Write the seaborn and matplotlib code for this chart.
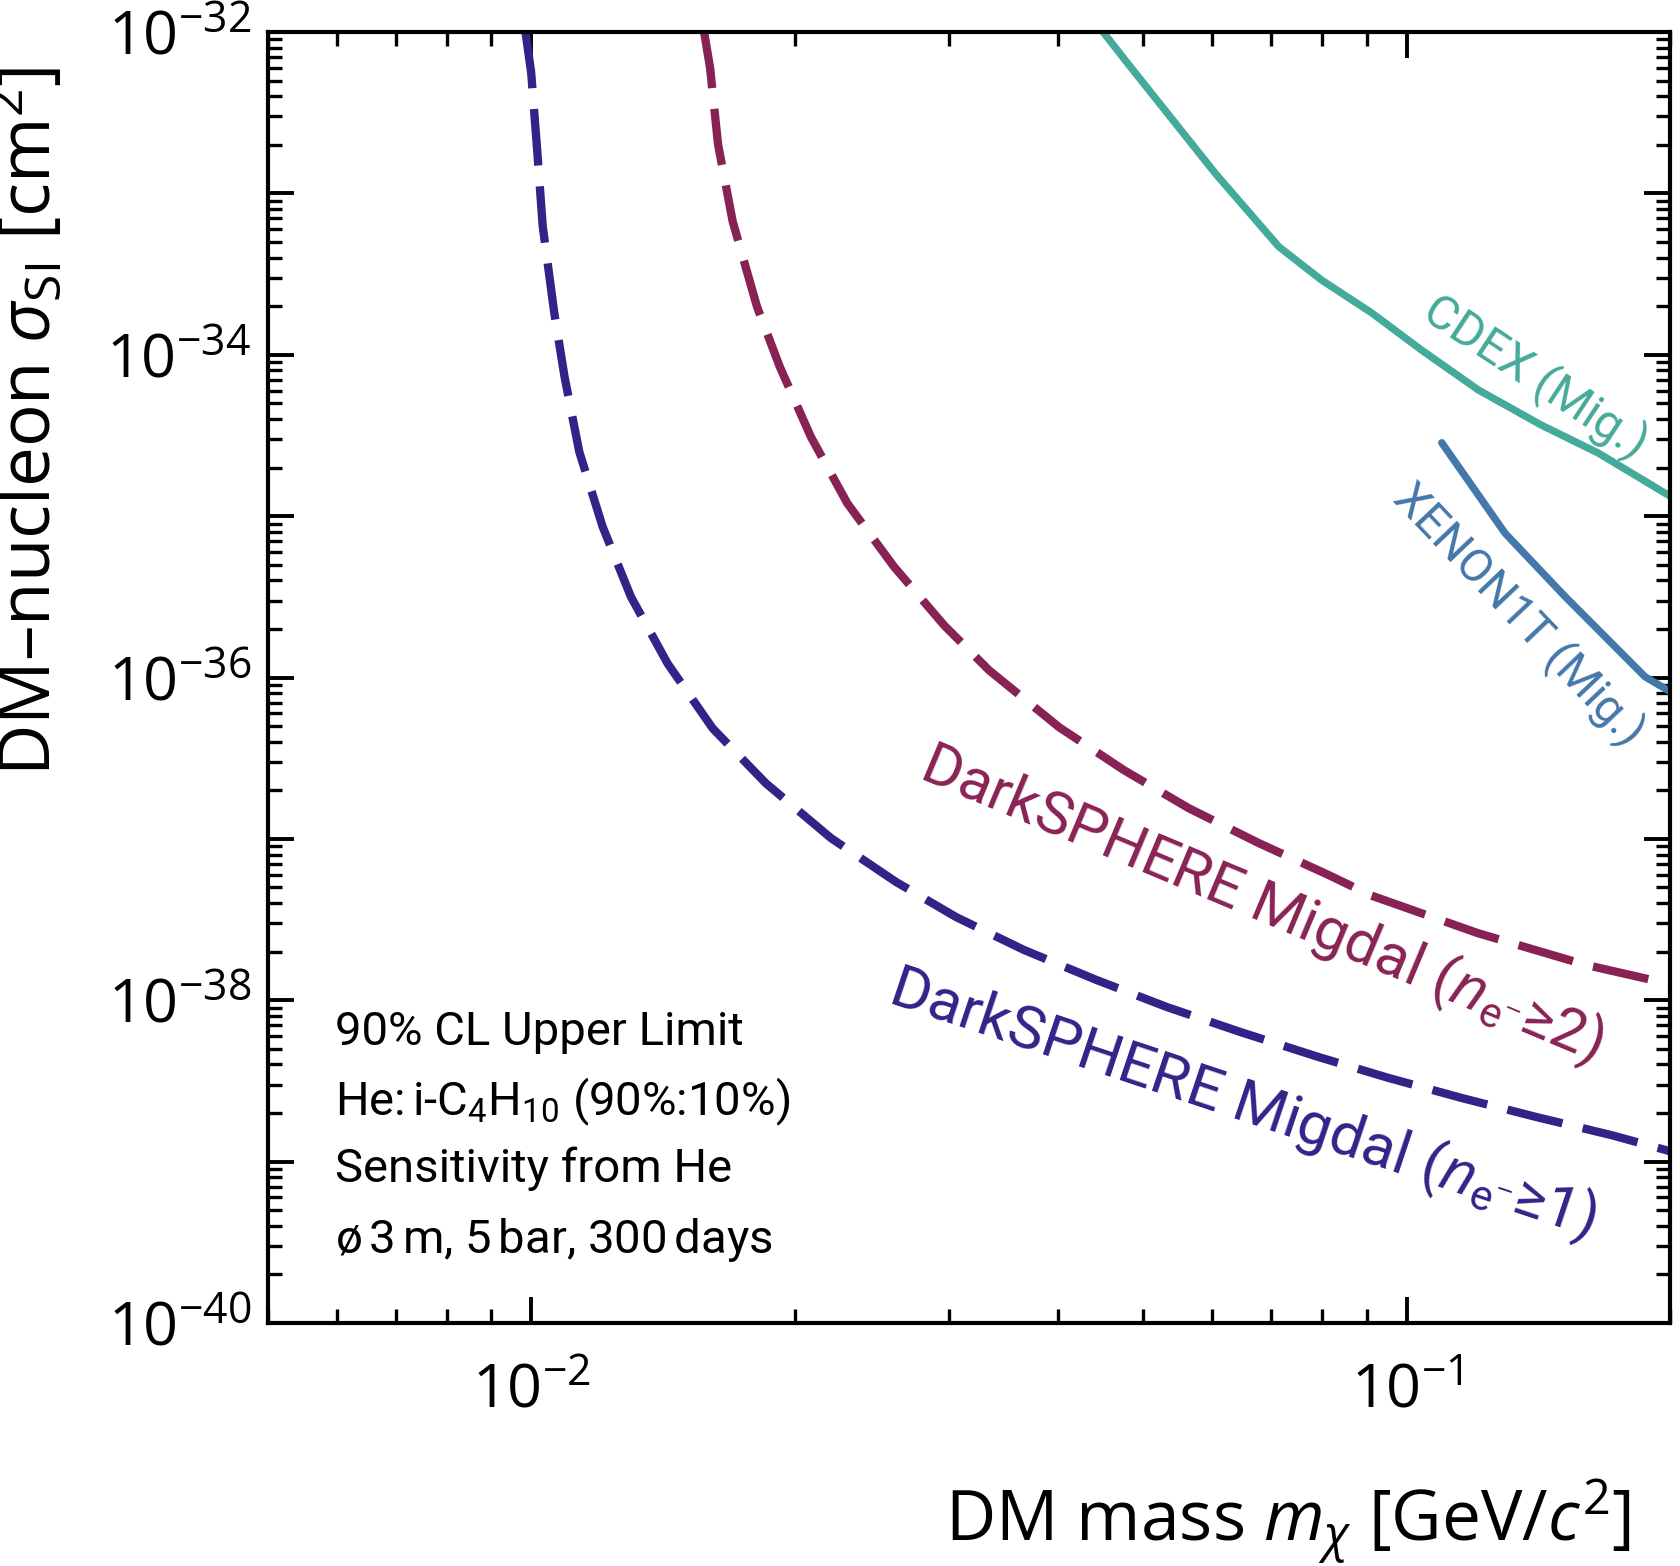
import numpy as np
import matplotlib
matplotlib.use("Agg")
import matplotlib.pyplot as plt
import seaborn as sns
from matplotlib.ticker import LogLocator, NullFormatter

# ---------------- data ----------------
# DarkSPHERE Migdal (n_e >= 1)
mass_ne1 = [0.009845, 0.009993, 0.01015, 0.01030, 0.01062, 0.01091, 0.01134,
            0.01206, 0.01299, 0.01431, 0.01611, 0.01853, 0.02200, 0.02610,
            0.03056, 0.03654, 0.04416, 0.05321, 0.06462, 0.07932, 0.09539,
            0.1156, 0.1407, 0.1714, 0.2000]
sigma_ne1 = [1.0e-32, 5.6e-33, 1.88e-33, 6.3e-34, 1.81e-34, 7.3e-35, 2.51e-35,
             8.6e-36, 3.17e-36, 1.22e-36, 4.84e-37, 2.21e-37, 1.01e-37, 5.41e-38,
             3.28e-38, 2.05e-38, 1.34e-38, 9.08e-39, 6.35e-39, 4.45e-39, 3.30e-39,
             2.48e-39, 1.89e-39, 1.46e-39, 1.16e-39]

# DarkSPHERE Migdal (n_e >= 2)
mass_ne2 = [0.01575, 0.01600, 0.01634, 0.01698, 0.01810, 0.01922, 0.02086,
            0.02296, 0.02596, 0.02961, 0.03333, 0.04006, 0.04752, 0.05637,
            0.06777, 0.08147, 0.09099, 0.1205, 0.1600, 0.2000]
sigma_ne2 = [1.0e-32, 6.0e-33, 2.01e-33, 6.71e-34, 1.99e-34, 8.43e-35, 3.10e-35,
             1.20e-35, 4.86e-36, 2.11e-36, 1.11e-36, 4.93e-37, 2.67e-37, 1.55e-37,
             9.42e-38, 5.97e-38, 4.47e-38, 2.61e-38, 1.66e-38, 1.26e-38]

# CDEX (Migdal)
mass_cdex = [0.04500, 0.04800, 0.06046, 0.07143, 0.07998, 0.09120, 0.1040,
             0.1208, 0.1425, 0.1656, 0.2000]
sigma_cdex = [1.0e-32, 6.4e-33, 1.33e-33, 4.68e-34, 2.90e-34, 1.82e-34, 1.07e-34,
              6.05e-35, 3.67e-35, 2.46e-35, 1.33e-35]

# XENON1T (Migdal)
mass_xenon = [0.1097, 0.1296, 0.1518, 0.1873, 0.2000]
sigma_xenon = [2.85e-35, 7.83e-36, 3.17e-36, 1.01e-36, 8.2e-37]

x_major_ticks = [1e-2, 1e-1]
x_tick_labels = [r"$\mathdefault{10^{-2}}$", r"$\mathdefault{10^{-1}}$"]
y_major_ticks = [1e-40, 1e-39, 1e-38, 1e-37, 1e-36, 1e-35, 1e-34, 1e-33, 1e-32]
y_tick_labels = [r"$\mathdefault{10^{-40}}$", "", r"$\mathdefault{10^{-38}}$", "",
                 r"$\mathdefault{10^{-36}}$", "", r"$\mathdefault{10^{-34}}$", "",
                 r"$\mathdefault{10^{-32}}$"]

info_lines = ["90% CL Upper Limit",
              "He:$\\,$i-C$_{\\mathdefault{4}}$H$_{\\mathdefault{10}}$ (90%:10%)",
              "Sensitivity from He",
              "\u00f8$\\,$3$\\,$m, 5$\\,$bar, 300$\\,$days"]

label_ne1 = "DarkSPHERE Migdal ($n_{\\mathdefault{e}^{-}}$\u22651)"
label_ne2 = "DarkSPHERE Migdal ($n_{\\mathdefault{e}^{-}}$\u22652)"
label_cdex = "CDEX (Mig.)"
label_xenon = "XENON1T (Mig.)"

col_ne1 = "#332288"
col_ne2 = "#882255"
col_cdex = "#44AA99"
col_xenon = "#4477AA"

# ---------------- style ----------------
sns.set_theme(style="ticks")
plt.rcParams["font.family"] = ["Open Sans", "DejaVu Sans"]
plt.rcParams["mathtext.fontset"] = "custom"
plt.rcParams["mathtext.rm"] = "Open Sans"
plt.rcParams["mathtext.it"] = "Open Sans:italic"
plt.rcParams["mathtext.bf"] = "Open Sans:bold"
plt.rcParams["mathtext.sf"] = "Open Sans"
plt.rcParams["mathtext.fallback"] = "stixsans"
plt.rcParams["axes.edgecolor"] = "black"
plt.rcParams["axes.labelcolor"] = "black"
plt.rcParams["text.color"] = "black"
plt.rcParams["xtick.color"] = "black"
plt.rcParams["ytick.color"] = "black"
plt.rcParams["xtick.labelcolor"] = "black"
plt.rcParams["ytick.labelcolor"] = "black"

fig = plt.figure(figsize=(16.81, 15.66), dpi=100)
ax = fig.add_axes([0.15943, 0.15517, 0.83403, 0.82439])
ax.set_xscale("log")
ax.set_yscale("log")

dash = (0, (6.8, 2.5))
sns.lineplot(x=mass_ne1, y=sigma_ne1, ax=ax, color=col_ne1, linewidth=6,
             linestyle=dash, sort=False, estimator=None)
sns.lineplot(x=mass_ne2, y=sigma_ne2, ax=ax, color=col_ne2, linewidth=6,
             linestyle=dash, sort=False, estimator=None)
sns.lineplot(x=mass_cdex, y=sigma_cdex, ax=ax, color=col_cdex, linewidth=5.3,
             sort=False, estimator=None)
sns.lineplot(x=mass_xenon, y=sigma_xenon, ax=ax, color=col_xenon, linewidth=5.3,
             sort=False, estimator=None)

ax.set_xlim(5e-3, 0.2)
ax.set_ylim(1e-40, 1e-32)

ax.set_xticks(x_major_ticks, labels=x_tick_labels)
ax.set_yticks(y_major_ticks, labels=y_tick_labels)
for axis in (ax.xaxis, ax.yaxis):
    axis.set_minor_locator(LogLocator(base=10, subs=np.arange(2, 10), numticks=100))
    axis.set_minor_formatter(NullFormatter())

ax.tick_params(which="both", direction="in", top=True, right=True, color="black")
ax.tick_params(which="major", length=19, width=2.8, labelsize=44, labelcolor="black")
ax.tick_params(which="minor", length=10, width=2.4)
ax.tick_params(axis="x", which="major", pad=28)
ax.tick_params(axis="y", which="major", pad=12)
for sp in ax.spines.values():
    sp.set_linewidth(3)
    sp.set_color("black")

ax.set_xlabel("DM mass $m_{\\chi}$ [GeV/$c^{\\mathdefault{2}}$]", fontsize=50,
              loc="right", color="black")
ax.xaxis.label.set_verticalalignment("baseline")
ax.xaxis.set_label_coords(0.972, -0.1685)
ax.set_ylabel("DM\u2013nucleon $\\sigma_{\\mathdefault{SI}}$ [cm$^{\\mathdefault{2}}$]",
              fontsize=51, loc="top", color="black")
ax.yaxis.label.set_verticalalignment("baseline")
ax.yaxis.set_label_coords(-0.1555, 0.973)

# info text block
info_y = [0.2153, 0.1611, 0.1092, 0.0542]
for line, yy in zip(info_lines, info_y):
    ax.text(0.0478, yy, line, transform=ax.transAxes, fontsize=34,
            family=["Roboto", "DejaVu Sans"], ha="left", va="baseline", color="black")

# curve labels
lab_kw = dict(ha="left", va="baseline", rotation_mode="anchor",
              family=["Roboto", "DejaVu Sans"])
ax.text(0.02758, 2.415e-37, label_ne2, color=col_ne2, fontsize=43, rotation=-22.8, **lab_kw)
ax.text(0.02540, 9.8e-39, label_ne1, color=col_ne1, fontsize=43.5, rotation=-18.5, **lab_kw)
ax.text(0.1035, 1.69e-34, label_cdex, color=col_cdex, fontsize=34.5, rotation=-33.4, **lab_kw)
ax.text(0.0962, 1.26e-35, label_xenon, color=col_xenon, fontsize=33.5, rotation=-46.5, **lab_kw)

fig.savefig("out.png", dpi=100)
